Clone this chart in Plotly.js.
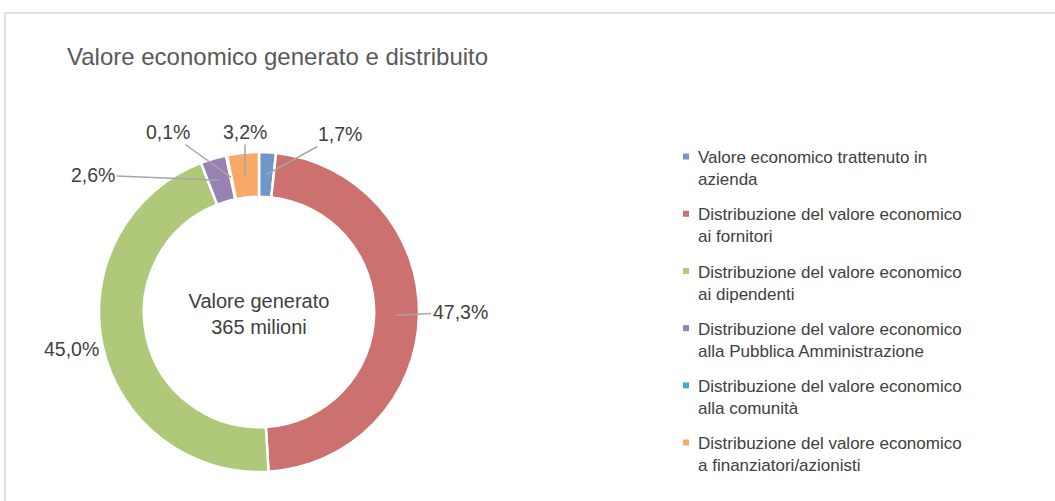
<!DOCTYPE html>
<html>
<head>
<meta charset="utf-8">
<script src="https://cdn.plot.ly/plotly-3.0.1.min.js"></script>
<style>
html,body{margin:0;padding:0;background:#fff;}
#chart{width:1055px;height:501px;}
</style>
</head>
<body>
<div id="chart"></div>
<script>
// ---- data ----
const categories = [
  "Valore economico trattenuto in<br>azienda",
  "Distribuzione del valore economico<br>ai fornitori",
  "Distribuzione del valore economico<br>ai dipendenti",
  "Distribuzione del valore economico<br>alla Pubblica Amministrazione",
  "Distribuzione del valore economico<br>alla comunità",
  "Distribuzione del valore economico<br>a finanziatori/azionisti"
];
const shares = [1.7, 47.3, 45.0, 2.6, 0.1, 3.2];
const chartTitle = "Valore economico generato e distribuito";
const centerText = "Valore generato<br>365 milioni";

// ---- styling / layout (not data) ----
const colors = ["#6F97C8", "#CC716F", "#AFC879", "#9882B3", "#4BACC6", "#F8A968"];
const W = 1055, H = 501;
const CX = 259, CY = 312, R_OUT = 160, R_MID = 137.5;
// label centres (pixels) for each slice label
const labelPos = [[340,134],[460,312],[71,349],[93,175],[168,132],[245,132]];
const showLeader = [true, true, false, true, true, true];

const fmt = v => v.toFixed(1).replace('.', ',') + '%';

const total = shares.reduce((a,b)=>a+b,0);
let cum = 0;
const annotations = shares.map((v,i) => {
  const mid = (cum + v/2) / total * 2 * Math.PI;
  cum += v;
  const px = CX + R_MID * Math.sin(mid);
  const py = CY - R_MID * Math.cos(mid);
  return {
    xref: 'paper', yref: 'paper',
    x: px / W, y: 1 - py / H,
    ax: labelPos[i][0] - px, ay: labelPos[i][1] - py,
    text: fmt(v),
    showarrow: true, arrowhead: 0, arrowwidth: 1.5, standoff: 0,
    arrowcolor: showLeader[i] ? '#A6A6A6' : 'rgba(0,0,0,0)',
    font: {size: 19.5, color: '#404040', family: 'Liberation Sans, Arial, sans-serif'}
  };
});

const trace = {
  type: 'pie',
  values: shares,
  labels: categories,
  sort: false,
  direction: 'clockwise',
  rotation: 0,
  hole: 0.72,
  textinfo: 'none',
  hoverinfo: 'label+percent',
  marker: {colors: colors, line: {color: '#ffffff', width: 2.5}},
  domain: {x: [(CX - R_OUT)/W, (CX + R_OUT)/W], y: [1 - (CY + R_OUT)/H, 1 - (CY - R_OUT)/H]},
  title: {text: centerText, position: 'middle center',
          font: {size: 20, color: '#404040', family: 'Liberation Sans, Arial, sans-serif'}}
};

const layout = {
  width: W, height: H,
  margin: {l: 0, r: 0, t: 0, b: 0},
  paper_bgcolor: '#ffffff',
  font: {family: 'Liberation Sans, Arial, sans-serif', color: '#404040'},
  title: {text: chartTitle, x: 67/W, xref: 'paper', xanchor: 'left',
          y: 1 - 57/H, yref: 'paper', yanchor: 'middle',
          font: {size: 24, color: '#595959', family: 'Liberation Sans, Arial, sans-serif'}},
  showlegend: true,
  legend: {x: 658/W, y: 1 - 139/H, xanchor: 'left', yanchor: 'top', valign: 'top',
           font: {size: 17, color: '#404040'}, bgcolor: 'rgba(0,0,0,0)', traceorder: 'normal'},
  annotations: annotations,
  shapes: [{type: 'rect', xref: 'paper', yref: 'paper',
            x0: 5/W, x1: 1.05, y0: -0.05, y1: 1 - 13/H,
            line: {color: '#D9D9D9', width: 1.5}, fillcolor: 'rgba(0,0,0,0)', layer: 'below'}]
};

Plotly.newPlot('chart', [trace], layout, {displayModeBar: false, staticPlot: true}).then(gd => {
  // Excel-like legend: smaller square markers and wider item spacing
  const extra = 10;
  const items = gd.querySelectorAll('.legend .traces');
  items.forEach((g, i) => {
    const t = g.getAttribute('transform') || '';
    const m = t.match(/translate\(([-\d.]+)[ ,]+([-\d.]+)\)/);
    if (m) g.setAttribute('transform', 'translate(' + m[1] + ',' + (parseFloat(m[2]) + i * extra) + ')');
  });
  gd.querySelectorAll('.legend .legendpoints path').forEach(p => {
    p.setAttribute('transform', 'translate(28,0) scale(0.5)');
    p.style.strokeWidth = '0';
  });
  const sb = gd.querySelector('.legend .scrollbox');
  if (sb) sb.removeAttribute('clip-path');
});
</script>
</body>
</html>
